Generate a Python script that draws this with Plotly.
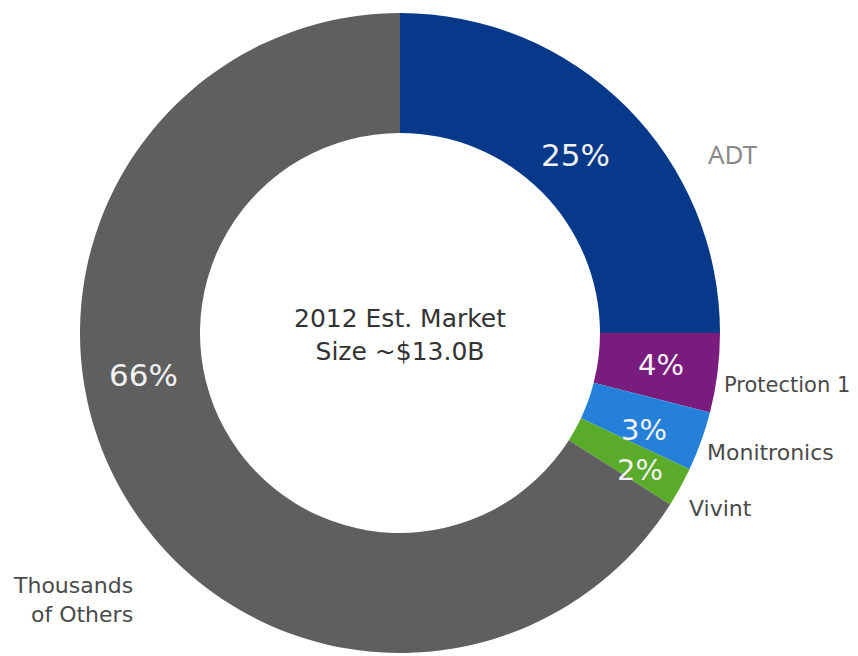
import plotly.graph_objects as go

# ---- data ----
labels = ["ADT", "Protection 1", "Monitronics", "Vivint", "Thousands of Others"]
display_labels = ["ADT", "Protection 1", "Monitronics", "Vivint", "Thousands<br>of Others"]
values = [25, 4, 3, 2, 66]
center_text = "2012 Est. Market<br>Size ~$13.0B"

# ---- styles ----
colors = ["#06398a", "#7a1c7e", "#2480d8", "#5aab2a", "#5f5f5f"]
W, H = 858, 656
OFF = 8  # page body margin offset

# label positions (screen pixels) and styles
pct_pos = [(575, 155), (661, 365), (644, 430), (640, 470), (143, 375)]
pct_size = [31, 29, 29, 29, 31]
name_pos = [(706, 154), (722, 385), (705, 452), (687, 508), (135, 600)]
name_anchor = ["left", "left", "left", "left", "right"]
name_color = ["#8a8a8a", "#4a4a4a", "#4a4a4a", "#4a4a4a", "#4a4a4a"]
name_size = [26, 21, 22, 22, 22]
name_font = ["Noto Sans", "DejaVu Sans", "DejaVu Sans", "DejaVu Sans", "DejaVu Sans"]

cx, cy, R = 400 - OFF, 333 - OFF, 320


def paper(x, y):
    return (x - OFF) / W, 1 - (y - OFF) / H


fig = go.Figure(
    go.Pie(
        labels=labels,
        values=values,
        marker=dict(colors=colors, line=dict(width=0)),
        hole=0.625,
        sort=False,
        direction="clockwise",
        rotation=0,
        textinfo="none",
        showlegend=False,
        domain=dict(
            x=[(cx - R) / W, (cx + R) / W],
            y=[1 - (cy + R) / H, 1 - (cy - R) / H],
        ),
        title=dict(
            text=center_text,
            position="middle center",
            font=dict(family="DejaVu Sans", size=25, color="#333333"),
        ),
    )
)

annotations = []
for v, (x, y), s in zip(values, pct_pos, pct_size):
    px_, py_ = paper(x, y)
    annotations.append(
        dict(
            x=px_, y=py_, xref="paper", yref="paper",
            text=f"{v}%", showarrow=False,
            xanchor="center", yanchor="middle",
            font=dict(family="DejaVu Sans", size=s, color="#f2f2f2"),
        )
    )
for t, (x, y), a, c, s, f in zip(display_labels, name_pos, name_anchor, name_color, name_size, name_font):
    px_, py_ = paper(x, y)
    annotations.append(
        dict(
            x=px_, y=py_, xref="paper", yref="paper",
            text=t, showarrow=False, align=a,
            xanchor=a, yanchor="middle",
            font=dict(family=f, size=s, color=c),
        )
    )

fig.update_layout(
    width=W, height=H,
    margin=dict(l=0, r=0, t=0, b=0),
    paper_bgcolor="white",
    plot_bgcolor="white",
    annotations=annotations,
)

fig.write_html("out.html")
